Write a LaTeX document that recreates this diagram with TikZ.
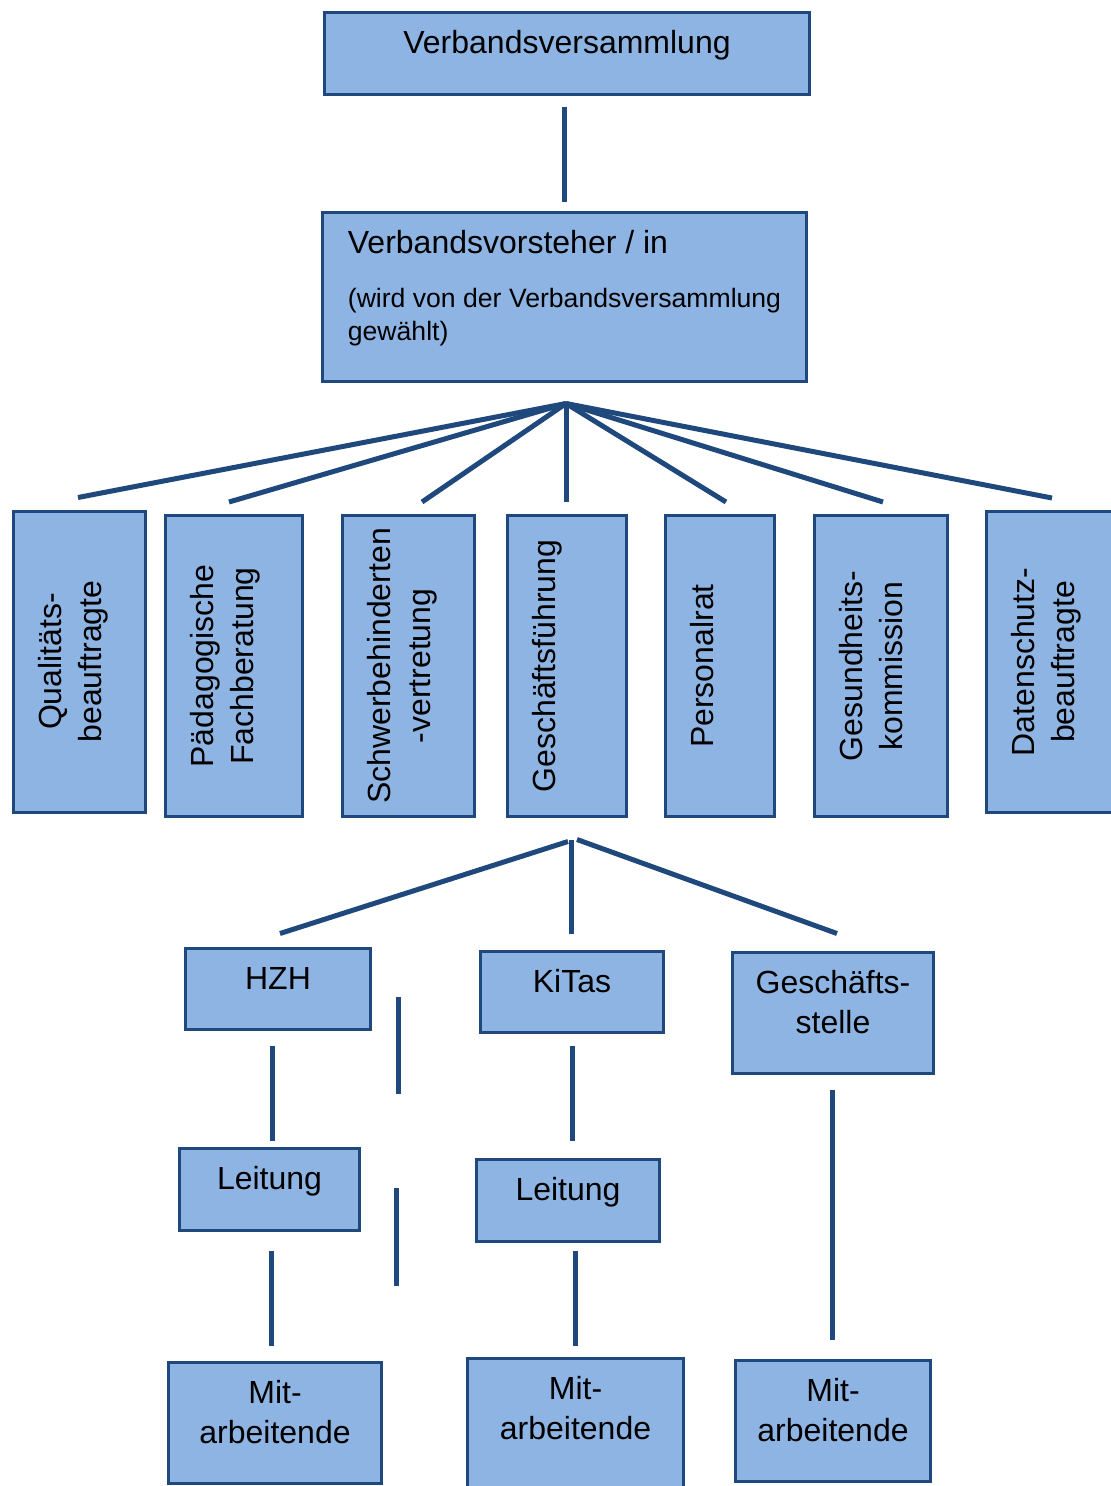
\documentclass[tikz,border=0pt]{standalone}
\usepackage{fontspec}
\setmainfont{Liberation Sans}
\definecolor{boxblue}{HTML}{8EB4E3}
\definecolor{lineblue}{HTML}{1F497D}
\begin{document}
\begin{tikzpicture}[
  x=1pt, y=-1pt,
  orgbox/.style={draw=lineblue, fill=boxblue, line width=3pt, inner sep=0pt, align=center,
    font=\fontsize{32}{40}\selectfont},
  boxsize/.style n args={3}{minimum width=#1pt, minimum height=#2pt,
    text height=#3pt, text depth=#2pt-35pt-#3pt},
  tallbox/.style n args={2}{orgbox, rotate=90, minimum width=301pt, minimum height=#1pt,
    text height=#2pt, text depth=#1pt-49pt-#2pt},
  conn/.style={draw=lineblue, line width=5pt}
]
\fill[white] (0,0) rectangle (1111,1486);
\useasboundingbox (0,0) rectangle (1111,1486);

\node[orgbox, boxsize={485}{82}{23}] (vv) at (567,53.5) {Verbandsversammlung};
\node[orgbox, boxsize={484}{169}{110}, align=left] (vs) at (564.5,297)
  {Verbandsvorsteher / in\\[14pt]
   {\fontsize{26.6}{33}\selectfont(wird von der Verbandsversammlung}\\[-7pt]
   {\fontsize{26.6}{33}\selectfont gewählt)}};

\node[tallbox={132}{63}] (qb) at (79.5,661.5) {Qualitäts-\\beauftragte};
\node[tallbox={137}{63}] (pf) at (234,666) {Pädagogische\\Fachberatung};
\node[tallbox={132}{63}] (sv) at (408.5,666) {Schwerbehinderten\\-vertretung};
\node[tallbox={119}{23}] (gf) at (567,666) {Geschäftsführung};
\node[tallbox={109}{23}] (pr) at (720,666) {Personalrat};
\node[tallbox={133}{63}] (gk) at (881,666) {Gesundheits-\\kommission};
\node[tallbox={132}{63}] (db) at (1052.5,662) {Datenschutz-\\beauftragte};

\node[orgbox, boxsize={185}{81}{23}] (hzh) at (278,989) {HZH};
\node[orgbox, boxsize={183}{81}{23}] (kita) at (572,992) {KiTas};
\node[orgbox, boxsize={201}{121}{63}] (gst) at (833,1013) {Geschäfts-\\stelle};
\node[orgbox, boxsize={180}{82}{23}] (lh) at (269.5,1189.5) {Leitung};
\node[orgbox, boxsize={183}{82}{23}] (lk) at (568,1200.5) {Leitung};
\node[orgbox, boxsize={213}{121}{63}] (mh) at (275,1423) {Mit-\\arbeitende};
\node[orgbox, boxsize={216}{130}{63}] (mk) at (575.5,1423.5) {Mit-\\arbeitende};
\node[orgbox, boxsize={195}{121}{63}] (mg) at (833,1421) {Mit-\\arbeitende};

\draw[conn, shorten <=10.5pt, shorten >=9.5pt] (vv.south -| vs.north) -- (vs.north);

\coordinate (fanA) at ([xshift=1.5pt, yshift=-20.5pt]vs.south);
\foreach \n/\dx in {qb/-1.5, pf/-5, sv/13.5, gf/-1, pr/6, gk/2, db/-0.5}
  \draw[conn] (fanA) -- ([xshift=\dx pt, yshift=12pt]\n.east);

\coordinate (fanB) at ([xshift=4pt, yshift=-21.5pt]gf.west);
\draw[conn] ([xshift=-3pt, yshift=-2pt]fanB) -- ([xshift=2pt, yshift=13.5pt]hzh.north);
\draw[conn] (fanB) -- ([xshift=-1pt, yshift=16.5pt]kita.north);
\draw[conn] ([xshift=6pt]fanB) -- ([xshift=4pt, yshift=17.5pt]gst.north);

\draw[conn] ([xshift=-6pt, yshift=-14.5pt]hzh.south) -- ([xshift=2.5pt, yshift=6.5pt]lh.north);
\draw[conn] ([xshift=1.5pt, yshift=-18.5pt]lh.south) -- ([xshift=-4pt, yshift=15.5pt]mh.north);
\draw[conn] ([yshift=-11.5pt]kita.south) -- ([xshift=4pt, yshift=17.5pt]lk.north);
\draw[conn] ([xshift=7pt, yshift=-7.5pt]lk.south) -- ([xshift=-0.5pt, yshift=11.5pt]mk.north);
\draw[conn] ([xshift=-1pt, yshift=-14.5pt]gst.south) -- ([xshift=-1pt, yshift=19.5pt]mg.north);

\coordinate (tickA) at (398,997);
\coordinate (tickB) at (398,1094);
\coordinate (tickC) at (396,1188);
\coordinate (tickD) at (396,1286);
\draw[conn] (tickA) -- (tickB);
\draw[conn] (tickC) -- (tickD);
\end{tikzpicture}
\end{document}
